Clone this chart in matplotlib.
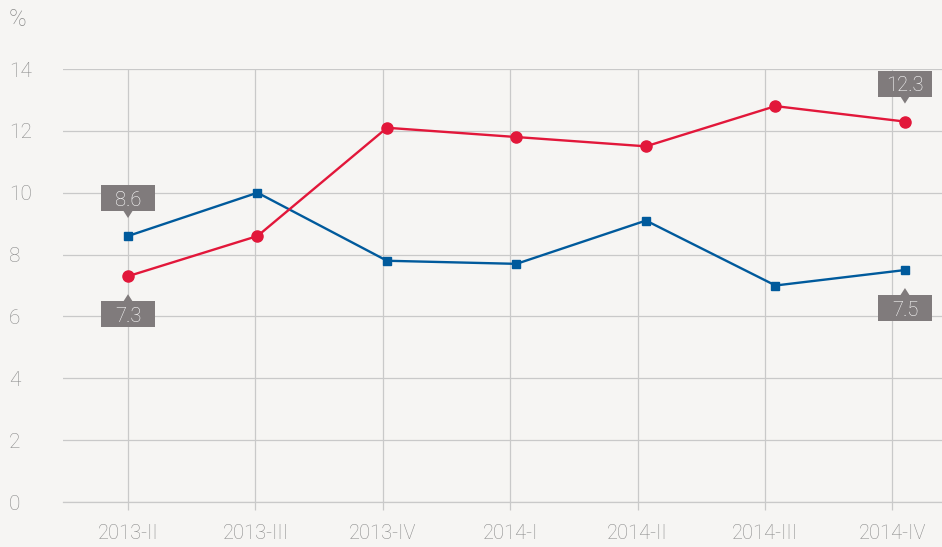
import matplotlib
matplotlib.use("Agg")
import matplotlib.pyplot as plt
import matplotlib.transforms as mtransforms
from matplotlib.patches import Polygon

quarters = ["2013-II", "2013-III", "2013-IV", "2014-I", "2014-II", "2014-III", "2014-IV"]
red_vals = [7.3, 8.6, 12.1, 11.8, 11.5, 12.8, 12.3]
blue_vals = [8.6, 10.0, 7.8, 7.7, 9.1, 7.0, 7.5]
yticks = [0, 2, 4, 6, 8, 10, 12, 14]

BG = "#f6f5f3"
GRID = "#c9c9c9"
TXT = "#8a8a8a"
RED = "#e2173a"
BLUE = "#005a9c"
TAG = "#807b7c"
FONT = "Roboto"

fig = plt.figure(figsize=(9.42, 5.47), dpi=100, facecolor=BG)
pos = [63 / 942, 45 / 547, 1 - 63 / 942, 433 / 547]

# grid / axis layer
ax = fig.add_axes(pos, facecolor=BG)
ax.set_xlim(-0.51, 6.39)
ax.set_ylim(0, 14)
ax.set_xticks(range(len(quarters)))
ax.set_xticklabels(quarters, fontsize=14.5, color=TXT, family=FONT, fontweight="light")
ax.set_yticks(yticks)
ax.set_yticklabels([str(v) for v in yticks], fontsize=15, color=TXT, family=FONT,
                   fontweight="light", ha="left")
ax.tick_params(axis="x", length=6, width=0.9, color=GRID, pad=10)
ax.tick_params(axis="y", length=0, pad=39)
ax.grid(True, color=GRID, linewidth=0.9)
ax.axhline(0, color=GRID, linewidth=0.9, clip_on=False, zorder=0)
for s in ax.spines.values():
    s.set_visible(False)
ax.set_axisbelow(True)

# series layer
ax2 = fig.add_axes(pos, facecolor="none")
ax2.set_xlim(-0.502, 6.286)
ax2.set_ylim(0, 14)
ax2.axis("off")
x = list(range(len(quarters)))
ax2.plot(x, blue_vals, color=BLUE, lw=1.7, marker="s", ms=6, zorder=3)
ax2.plot(x, red_vals, color=RED, lw=1.7, marker="o", ms=8, zorder=4)


def tag(axis, xv, yv, text, above=True):
    # grey value box with a small pointer, sized in inches around the point
    trans = fig.dpi_scale_trans + mtransforms.ScaledTranslation(xv, yv, axis.transData)
    w, h, gap, tip = 0.54, 0.26, 0.25, 0.18
    sgn = 1 if above else -1
    y0 = sgn * gap
    y1 = sgn * (gap + h)
    box = Polygon([(-w / 2, y0), (w / 2, y0), (w / 2, y1), (-w / 2, y1)],
                  closed=True, transform=trans, facecolor=TAG, edgecolor="none",
                  zorder=6, clip_on=False)
    tri = Polygon([(-0.045, y0), (0.045, y0), (0, sgn * tip)], closed=True,
                  transform=trans, facecolor=TAG, edgecolor="none", zorder=6,
                  clip_on=False)
    axis.add_patch(box)
    axis.add_patch(tri)
    axis.text(0, (y0 + y1) / 2, text, transform=trans, ha="center", va="center_baseline",
              color="white", fontsize=14.5, family=FONT, fontweight="light",
              zorder=7)


tag(ax2, 0, blue_vals[0], f"{blue_vals[0]:.1f}", above=True)
tag(ax2, 0, red_vals[0], f"{red_vals[0]:.1f}", above=False)
tag(ax2, 6, red_vals[6], f"{red_vals[6]:.1f}", above=True)
tag(ax2, 6, blue_vals[6], f"{blue_vals[6]:.1f}", above=False)

fig.text(9 / 942, 1 - 20 / 547, "%", fontsize=17, color=TXT, family=FONT,
         fontweight="light", ha="left", va="center")

fig.savefig("out.png", dpi=100, facecolor=BG)
